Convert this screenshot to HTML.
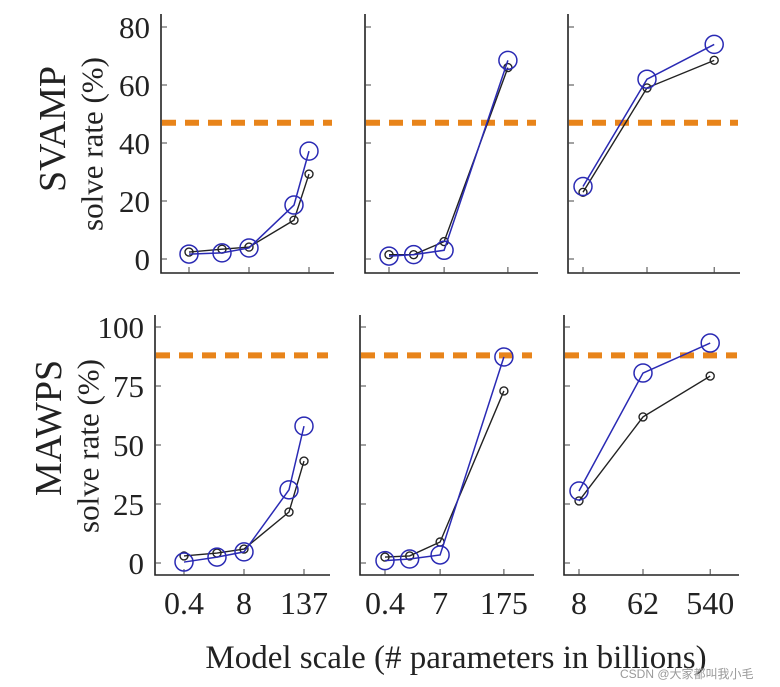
<!DOCTYPE html>
<html><head><meta charset="utf-8"><style>
body{margin:0;background:#fff;width:780px;height:687px;overflow:hidden}
svg{display:block}
text{font-family:"Liberation Serif","Noto Serif CJK SC",serif;fill:#222}
</style></head><body>
<svg id="c" width="780" height="687" viewBox="0 0 780 687">
<text x="53" y="129" font-size="38" text-anchor="middle" dominant-baseline="central" transform="rotate(-90 53 129)">SVAMP</text>
<text x="92" y="144" font-size="31" text-anchor="middle" dominant-baseline="central" transform="rotate(-90 92 144)">solve rate (%)</text>
<text x="49" y="428" font-size="38" text-anchor="middle" dominant-baseline="central" transform="rotate(-90 49 428)">MAWPS</text>
<text x="88" y="446" font-size="31" text-anchor="middle" dominant-baseline="central" transform="rotate(-90 88 446)">solve rate (%)</text>
<text x="456" y="668" font-size="33" text-anchor="middle">Model scale (# parameters in billions)</text>
<text x="620" y="678" font-size="12" style="fill:#999;font-family:'Liberation Sans','Noto Sans CJK SC',sans-serif">CSDN @大家都叫我小毛</text>
</svg>
<script>
// x slots per panel column
const xTickLabels = [["0.4","8","137"],["0.4","7","175"],["8","62","540"]];
const xTickSlots = [[0,2,4],[0,1.9,4.1],[0,2,4.1]];
const xPointSlots = [[0,1.1,2,3.5,4],[0,0.85,1.9,4.1],[0,2,4.1]];
// SVAMP
const svampBlue = [[1.7,2.1,3.8,18.6,37.2],[1,1.5,3,68.5],[25,62,74]];
const svampBlack = [[2.4,3.4,4.1,13.4,29.3],[1.5,1.5,6,66],[23,59,68.5]];
const svampRef = 47;
const svampTicks = [0,20,40,60,80];
// MAWPS
const mawpsBlue = [[0.4,2.5,4.7,31,58],[1,1.7,3.4,87.3],[30.5,80.5,93.2]];
const mawpsBlack = [[3,4.2,5.9,21.6,43.2],[2.5,3,8.9,72.9],[26.3,61.9,79.2]];
const mawpsRef = 88;
const mawpsTicks = [0,25,50,75,100];

const svg = document.getElementById('c');
const NS='http://www.w3.org/2000/svg';
function mk(t,a){const e=document.createElementNS(NS,t);for(const k in a)e.setAttribute(k,a[k]);svg.appendChild(e);return e;}

const rows=[
 {name:'svamp',top:14,bottom:273,y0:259,ppu:2.9,ticks:svampTicks,blue:svampBlue,black:svampBlack,ref:svampRef,
  panels:[[161,334,189],[365,538,389],[568,740,583]],showX:false},
 {name:'mawps',top:315,bottom:575,y0:563,ppu:2.36,ticks:mawpsTicks,blue:mawpsBlue,black:mawpsBlack,ref:mawpsRef,
  panels:[[155,330,184],[360,534,385],[564,739,579]],showX:true}
];
const slotPx=[30,29,32];
rows.forEach(r=>{
 const ys=v=>r.y0-v*r.ppu;
 r.panels.forEach((p,pi)=>{
  const xs=s=>p[2]+s*slotPx[pi];
  const ax=mk('path',{d:`M${p[0]} ${r.top}V${r.bottom}H${p[1]}`,fill:'none',stroke:'#222','stroke-width':1.6});
  
  
  r.ticks.forEach(t=>{
   const tk=mk('line',{x1:p[0],x2:p[0]+6,y1:ys(t),y2:ys(t),stroke:'#444','stroke-width':1});
   
   
   if(pi===0){
    const tl=mk('text',{x:p[0]-11,y:ys(t)+11,'font-size':31,'text-anchor':'end'});
    tl.textContent=t;
    
    
   }
  });
  xTickSlots[pi].forEach((s,i)=>{
   const tk=mk('line',{x1:xs(s),x2:xs(s),y1:r.bottom,y2:r.bottom-6,stroke:'#444','stroke-width':1});
   
   
   if(r.showX){
    const tl=mk('text',{x:xs(s),y:r.bottom+39,'font-size':32,'text-anchor':'middle'});
    tl.textContent=xTickLabels[pi][i];
    
    
   }
  });
  const rl=mk('line',{x1:p[0]+1,x2:p[1]-2,y1:ys(r.ref),y2:ys(r.ref),stroke:'#e8841a','stroke-width':6,'stroke-dasharray':'14 9'});
  
  
  [['black',r.black[pi],'#222',4,1.4],['blue',r.blue[pi],'#2a2ab4',9,1.5]].forEach(([nm,vals,col,rad,sw])=>{
   const pts=vals.map((v,i)=>[xs(xPointSlots[pi][i]),ys(v)]);
   const ln=mk('polyline',{points:pts.map(q=>q.join(',')).join(' '),fill:'none',stroke:col,'stroke-width':sw});
   
   
   pts.forEach(q=>{
    const c=mk('circle',{cx:q[0],cy:q[1],r:rad,fill:'none',stroke:col,'stroke-width':sw});
    
    
   });
  });
 });
});
</script>
</body></html>
